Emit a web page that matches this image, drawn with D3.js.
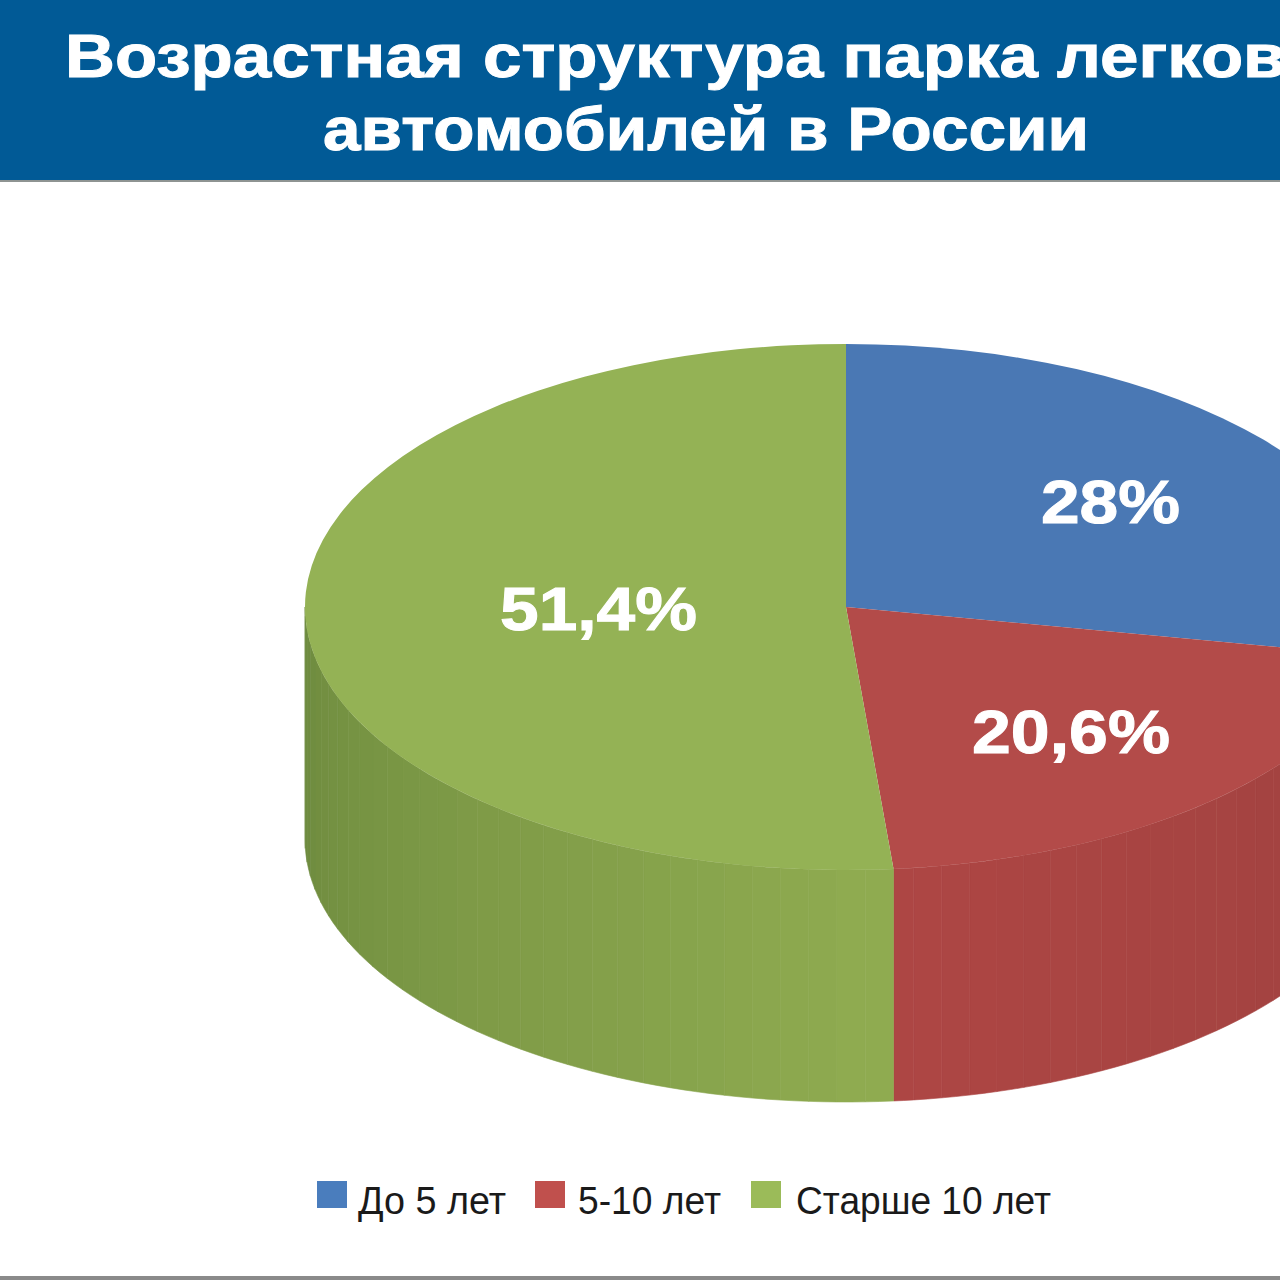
<!DOCTYPE html>
<html><head><meta charset="utf-8">
<script src="https://cdn.jsdelivr.net/npm/d3@7"></script>
<style>html,body{margin:0;padding:0;background:#fff}svg{display:block}</style>
</head><body><div id="c"></div>
<script>
const titleLines = ["Возрастная структура парка легковых", "автомобилей в России"];
const categories = ["До 5 лет", "5-10 лет", "Старше 10 лет"];
const shares = [28, 20.6, 51.4];
const valueLabels = ["28%", "20,6%", "51,4%"];
const topColors = ["#4a78b4", "#b34b49", "#94b255"];
const wallLight = ["#4a78b4", "#ae4644", "#8fab50"];
const wallDark  = ["#3f6698", "#a04240", "#6d8a3e"];

const W = 1280, H = 1280;
const cx = 846, cy = 607, rx = 541, ry = 263, depth = 232;

const svg = d3.select("#c").append("svg").attr("width", W).attr("height", H).attr("viewBox", `0 0 ${W} ${H}`);
svg.append("rect").attr("width", W).attr("height", H).attr("fill", "#fff");

// header
svg.append("rect").attr("width", W).attr("height", 180).attr("fill", "#015a96");
svg.append("rect").attr("y", 180).attr("width", W).attr("height", 2).attr("fill", "#8e9492");
svg.append("rect").attr("y", 1276).attr("width", W).attr("height", 4).attr("fill", "#8a8a8a");

const titleFont = "'Liberation Sans', Arial, sans-serif";
const titleSpec = [{x: 65, y: 77, len: 1318}, {x: 323, y: 150, len: 766}];
svg.selectAll("text.title").data(titleLines).join("text").attr("class", "title")
  .attr("x", (d, i) => titleSpec[i].x).attr("y", (d, i) => titleSpec[i].y)
  .attr("textLength", (d, i) => titleSpec[i].len).attr("lengthAdjust", "spacingAndGlyphs")
  .attr("font-family", titleFont).attr("font-weight", 700).attr("font-size", 62)
  .attr("stroke", "#fff").attr("stroke-width", 1)
  .attr("fill", "#fff").text(d => d);

// pie geometry
const pie = d3.pie().sort(null).value(d => d);
const slices = pie(shares);
const px = a => cx + rx * Math.sin(a);
const py = a => cy - ry * Math.cos(a);

// side wall: vertical shaded bands along the visible front half
const wall = svg.append("g");
const bandStep = Math.PI / 60;
slices.forEach((s, i) => {
  const a0 = Math.max(s.startAngle, Math.PI / 2), a1 = Math.min(s.endAngle, 3 * Math.PI / 2);
  if (a1 <= a0) return;
  const shade = d3.scaleLinear().domain([Math.PI * 0.98, Math.PI * 1.5]).range([wallLight[i], wallDark[i]]).clamp(true);
  const shadeR = d3.scaleLinear().domain([Math.PI * 0.98, Math.PI * 0.6]).range([wallLight[i], wallDark[i]]).clamp(true);
  const area = d3.area().x(px).y0(a => py(a)).y1(a => py(a) + depth);
  let a = a0;
  while (a < a1 - 1e-6) {
    const b = Math.min(a + bandStep, a1);
    const pts = [a, (a + b) / 2, b];
    const mid = (a + b) / 2;
    const col = mid > Math.PI ? shade(mid) : shadeR(mid);
    wall.append("path").attr("d", area(pts)).attr("fill", col).attr("stroke", col).attr("stroke-width", 0.6);
    a = b;
  }
});

// top face: d3.arc with vertical squash
const arc = d3.arc().innerRadius(0).outerRadius(rx);
svg.append("g").attr("transform", `translate(${cx},${cy}) scale(1,${ry / rx})`)
  .selectAll("path").data(slices).join("path")
  .attr("d", arc).attr("fill", (d, i) => topColors[i]);

// value labels
const labelSpec = [{x: 1041, y: 523, len: 139}, {x: 972, y: 753, len: 198}, {x: 500, y: 630, len: 197}];
svg.selectAll("text.val").data(valueLabels).join("text").attr("class", "val")
  .attr("x", (d, i) => labelSpec[i].x).attr("y", (d, i) => labelSpec[i].y)
  .attr("textLength", (d, i) => labelSpec[i].len).attr("lengthAdjust", "spacingAndGlyphs")
  .attr("font-family", titleFont).attr("font-weight", 700).attr("font-size", 62)
  .attr("stroke", "#fff").attr("stroke-width", 1)
  .attr("fill", "#fff").text(d => d);

// legend
const legendSpec = [{sx: 317, tx: 358, len: 148}, {sx: 535, tx: 578, len: 143}, {sx: 751, tx: 796, len: 255}];
const legendColors = ["#4a7dbd", "#c0504d", "#9bbb59"];
const lg = svg.append("g");
lg.selectAll("rect").data(categories).join("rect")
  .attr("x", (d, i) => legendSpec[i].sx).attr("y", 1181)
  .attr("width", 30).attr("height", 27).attr("fill", (d, i) => legendColors[i]);
lg.selectAll("text").data(categories).join("text")
  .attr("x", (d, i) => legendSpec[i].tx).attr("y", 1214)
  .attr("textLength", (d, i) => legendSpec[i].len).attr("lengthAdjust", "spacingAndGlyphs")
  .attr("font-family", titleFont).attr("font-size", 38).attr("fill", "#1a1a1a").text(d => d);
</script></body></html>
